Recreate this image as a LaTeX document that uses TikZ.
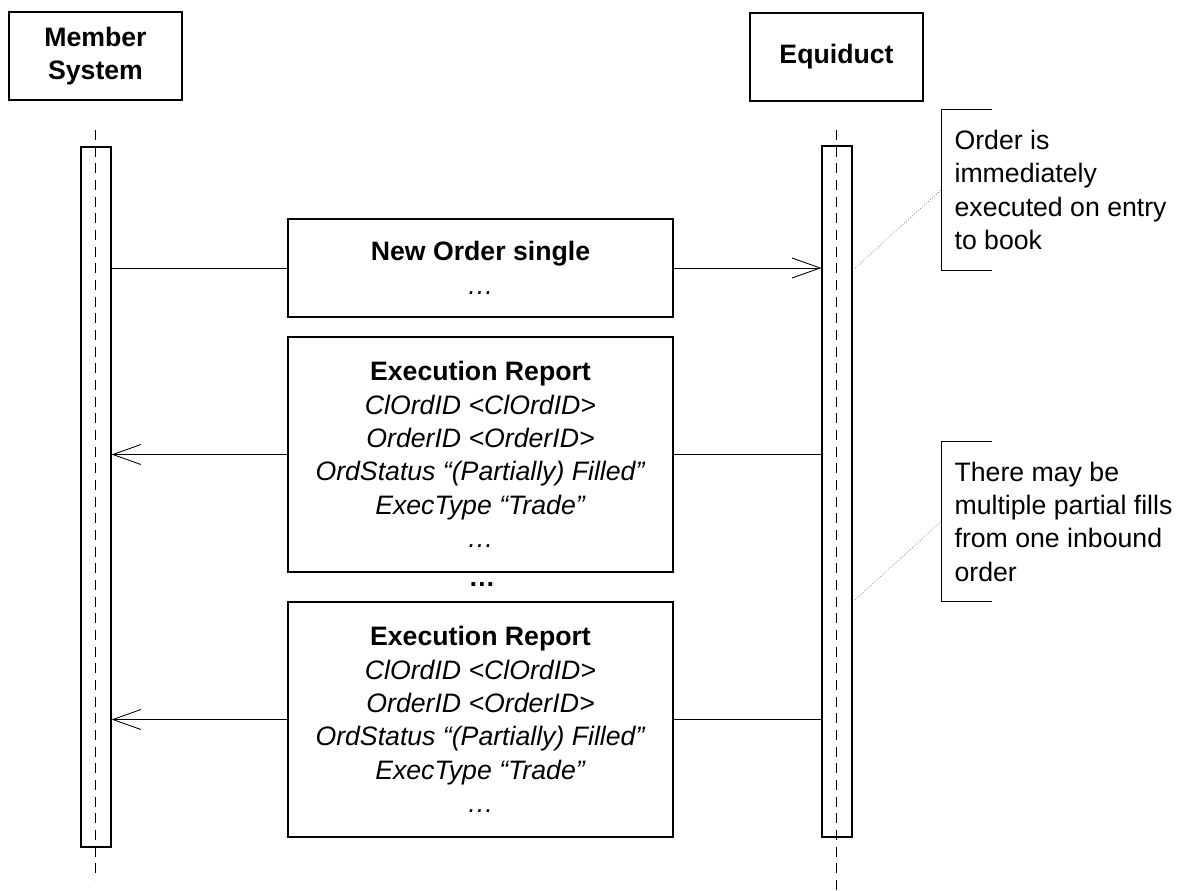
\documentclass[tikz,border=0pt]{standalone}
\usepackage{fontspec}
\setmainfont{Liberation Sans}
\usetikzlibrary{arrows.meta}
\begin{document}
\begin{tikzpicture}[x=0.75pt,y=-0.75pt,
    every node/.style={font=\fontsize{20}{25}\selectfont},
    actor/.style={draw,line width=0.9pt,minimum width=129.75pt,minimum height=66pt,align=center,font=\fontsize{20}{25}\selectfont\bfseries},
    activation/.style={draw,line width=0.9pt,minimum width=22.5pt,inner sep=0pt},
    lifeline/.style={line width=0.6pt,dash pattern=on 7.5pt off 5pt},
    message/.style={draw,line width=0.8pt,minimum width=288.75pt,align=center,inner sep=0pt},
    msgline/.style={line width=0.65pt},
    msgarrow/.style={msgline,-{Straight Barb[length=21pt,width=15pt]}},
    note/.style={align=left,inner xsep=10pt,inner ysep=0pt,minimum height=120pt,anchor=west},
    bracket/.style={line width=0.7pt},
    anchorline/.style={gray,line width=0.55pt,dash pattern=on 0.6pt off 1.4pt}]
  \useasboundingbox (0,0) rectangle (1183,891);

  % actors and lifelines
  \node[actor] (member) at (95.5,56) {Member\\System};
  \node[actor] (equiduct) at (836.5,57) {Equiduct};
  \node[activation,minimum height=525pt] (memberbar) at (96,497) {};
  \node[activation,minimum height=518.25pt] (equibar) at (837,491.5) {};
  \draw[lifeline] (member.south |- 0,130) -- (member.south |- 0,880);
  \draw[lifeline] (equiduct.south |- 0,130) -- (equiduct.south |- 0,891);

  % messages
  \node[message,minimum height=73.5pt] (neworder) at (480.5,268) {\textbf{New Order single}\\\textit{…}};
  \node[message,minimum height=176.25pt] (report1) at (480.5,454.5) {\textbf{Execution Report}\\\textit{ClOrdID <ClOrdID>}\\\textit{OrderID <OrderID>}\\\textit{OrdStatus “(Partially) Filled”}\\\textit{ExecType “Trade”}\\\textit{…}};
  \node (gap) at (482,585) {\textbf{…}};
  \node[message,minimum height=176.25pt] (report2) at (480.5,719.5) {\textbf{Execution Report}\\\textit{ClOrdID <ClOrdID>}\\\textit{OrderID <OrderID>}\\\textit{OrdStatus “(Partially) Filled”}\\\textit{ExecType “Trade”}\\\textit{…}};

  \draw[msgline] (memberbar.east |- neworder.west) -- (neworder.west);
  \draw[msgarrow] (neworder.east) -- (equibar.west |- neworder.east);
  \draw[msgline] (equibar.west |- report1.east) -- (report1.east);
  \draw[msgarrow] (report1.west) -- (memberbar.east |- report1.west);
  \draw[msgline] (equibar.west |- report2.east) -- (report2.east);
  \draw[msgarrow] (report2.west) -- (memberbar.east |- report2.west);

  % notes
  \node[note] (note1) at (941,190) {Order is\\immediately\\executed on entry\\to book};
  \draw[bracket] ([xshift=38.25pt]note1.north west) -- (note1.north west) -- (note1.south west) -- ([xshift=38.25pt]note1.south west);
  \coordinate (fillpt1) at (855,268);
  \draw[anchorline] (fillpt1) -- (note1.west);

  \node[note] (note2) at (941,521.5) {There may be\\multiple partial fills\\from one inbound\\order};
  \draw[bracket] ([xshift=38.25pt]note2.north west) -- (note2.north west) -- (note2.south west) -- ([xshift=38.25pt]note2.south west);
  \coordinate (fillpt2) at (855,600);
  \draw[anchorline] (fillpt2) -- (note2.west);
\end{tikzpicture}
\end{document}
